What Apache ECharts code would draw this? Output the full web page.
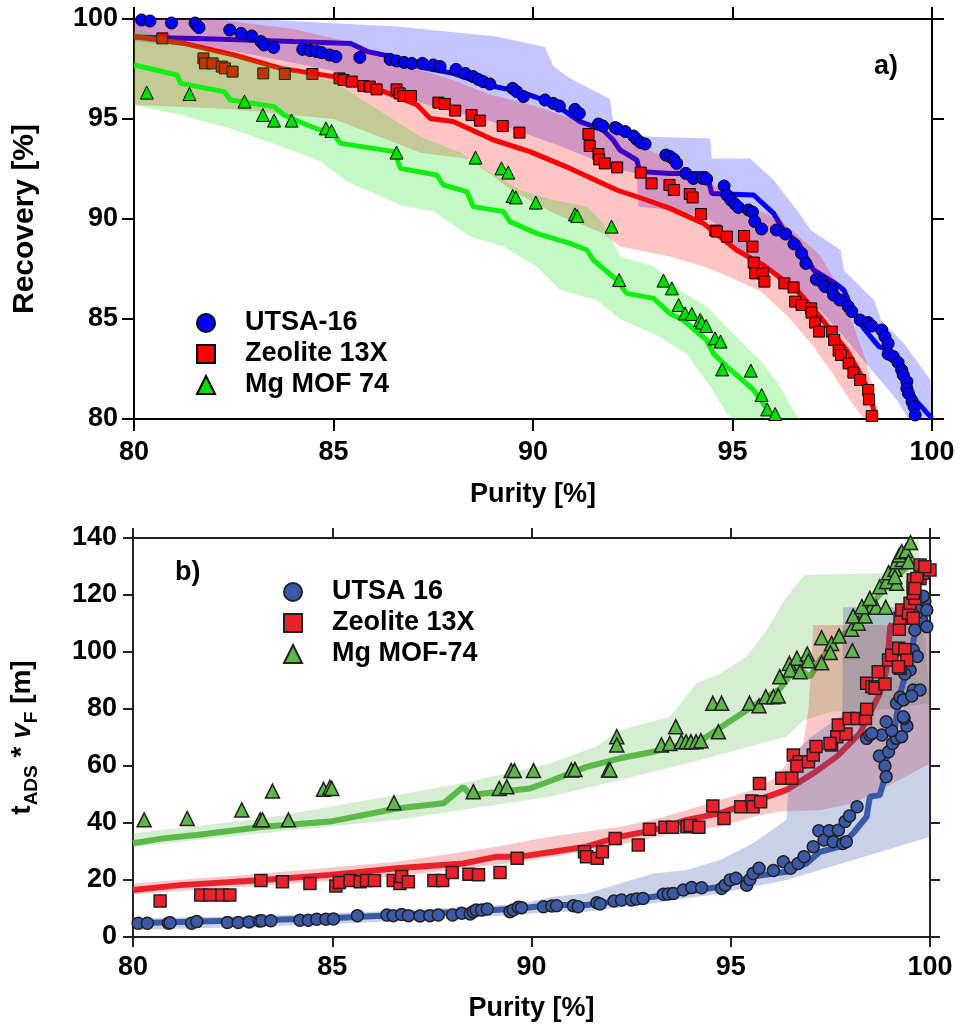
<!DOCTYPE html>
<html><head><meta charset="utf-8">
<script src="https://cdn.jsdelivr.net/npm/echarts@6/dist/echarts.min.js"></script>
<style>html,body{margin:0;padding:0;background:#fff}#c{width:961px;height:1036px}</style>
</head><body><div id="c"></div>
<script>
// ---------- Panel a: Recovery vs Purity ----------
var xTicksA = [80, 85, 90, 95, 100];
var yTicksA = [80, 85, 90, 95, 100];
var utsaA = [[80.19,99.95],[80.4,99.9],[80.94,99.8],[81.53,99.8],[81.57,99.7],[81.63,99.57],[82.4,99.45],[82.68,99.28],[82.95,99.15],[83.18,98.87],[83.26,98.7],[83.5,98.58],[84.23,98.48],[84.41,98.42],[84.58,98.37],[84.7,98.32],[84.9,98.2],[85.06,98.12],[85.66,98.08],[86.42,97.98],[86.58,97.9],[86.77,97.83],[86.96,97.78],[87.23,97.78],[87.5,97.7],[87.67,97.62],[88.07,97.48],[88.3,97.28],[88.5,97.12],[88.63,96.98],[88.75,96.87],[88.92,96.75],[89.49,96.53],[89.59,96.37],[89.76,96.12],[90.3,95.95],[90.51,95.78],[90.66,95.65],[91.05,95.48],[91.16,95.28],[91.64,94.75],[91.75,94.65],[92.06,94.57],[92.12,94.5],[92.31,94.37],[92.52,94.15],[92.6,93.98],[92.7,93.82],[92.81,93.75],[93.33,93.2],[93.43,93.12],[93.53,92.98],[93.6,92.78],[93.83,92.28],[94.02,92.03],[94.25,92.03],[94.35,92.0],[94.79,91.65],[94.86,91.2],[94.96,90.95],[95.06,90.75],[95.15,90.58],[95.4,90.45],[95.5,90.35],[95.56,89.87],[95.73,89.5],[96.1,89.45],[96.33,89.25],[96.54,88.75],[96.73,88.28],[96.84,87.78],[97.1,86.98],[97.23,86.87],[97.32,86.62],[97.49,86.48],[97.53,86.2],[97.69,85.95],[97.9,85.62],[97.99,85.37],[98.2,84.95],[98.4,84.82],[98.49,84.65],[98.74,84.45],[98.82,84.12],[98.9,83.78],[98.9,83.25],[99.03,83.12],[99.15,82.82],[99.24,82.45],[99.28,82.2],[99.37,81.87],[99.37,81.53],[99.41,81.28],[99.5,80.87],[99.55,80.62],[99.58,80.2]];
var zeoA = [[80.71,99.03],[81.74,98.03],[81.78,97.78],[81.97,97.78],[82.2,97.62],[82.28,97.53],[82.47,97.37],[83.24,97.28],[83.78,97.25],[84.47,97.25],[85.15,97.03],[85.25,96.95],[85.46,96.87],[85.75,96.65],[85.91,96.62],[86.08,96.48],[86.58,96.48],[86.66,96.28],[86.75,96.15],[86.94,96.15],[87.63,95.82],[87.79,95.75],[88.05,95.42],[88.46,95.2],[88.67,94.92],[89.24,94.65],[89.66,94.32],[91.39,94.25],[91.42,93.65],[91.64,93.25],[91.66,92.98],[91.8,92.78],[92.11,92.58],[92.7,92.32],[92.97,91.78],[93.42,91.7],[93.53,91.45],[93.93,91.25],[94.0,91.08],[94.21,90.25],[94.57,89.42],[94.61,89.37],[94.86,89.12],[95.29,89.15],[95.5,88.62],[95.53,87.82],[95.57,87.28],[95.76,87.28],[95.8,86.87],[96.3,86.78],[96.53,86.58],[96.57,85.87],[96.73,85.7],[96.97,85.53],[96.98,85.32],[97.07,84.82],[97.17,84.37],[97.49,84.37],[97.55,83.95],[97.66,83.42],[97.72,83.2],[97.91,82.78],[98.03,82.32],[98.2,81.95],[98.4,81.45],[98.42,80.98],[98.49,80.15]];
var mofA = [[80.32,96.32],[81.39,96.25],[82.77,95.87],[83.23,95.2],[83.51,94.92],[83.95,94.92],[84.81,94.53],[84.95,94.4],[86.58,93.32],[88.56,93.07],[89.21,92.53],[89.38,92.32],[89.49,91.15],[89.57,91.08],[90.07,90.82],[91.05,90.23],[91.11,90.15],[91.97,89.62],[92.16,86.95],[93.27,86.92],[93.48,86.53],[93.65,85.7],[93.81,85.28],[93.98,85.25],[94.19,84.95],[94.23,84.82],[94.34,84.65],[94.56,84.03],[94.7,83.87],[94.74,82.48],[95.46,82.42],[95.73,81.2],[95.87,80.48],[96.07,80.25]];
var utsaLineA = [[80,99.1],[82,99.0],[84,98.87],[85.43,98.78],[85.85,98.37],[86.5,98.1],[87.17,97.6],[88.0,97.28],[88.84,96.7],[89.67,96.37],[90.51,95.78],[91.18,94.87],[91.76,94.45],[92.01,93.95],[92.18,93.45],[92.6,92.95],[92.68,92.37],[93.43,92.28],[94.35,92.28],[94.48,91.28],[95.53,91.2],[96.03,90.28],[96.28,89.45],[96.66,88.78],[97.03,87.45],[97.58,86.78],[97.79,86.45],[98.04,85.28],[98.29,84.53],[98.67,83.62],[98.96,83.45],[99.21,82.62],[99.37,81.7],[99.62,80.87],[100,80.03]];
var zeoLineA = [[80,99.12],[81.25,98.78],[82.51,98.2],[83.68,97.53],[85.01,97.12],[86.27,96.37],[87.1,95.7],[87.42,95.03],[88.0,94.87],[89.01,93.95],[89.92,93.37],[90.93,92.53],[92.1,91.45],[92.85,90.95],[93.43,90.53],[94.27,89.78],[95.1,88.45],[95.77,87.7],[96.61,86.45],[97.19,85.12],[97.86,83.45],[98.2,82.28],[98.45,81.28],[98.57,80.12],[98.6,79.5]];
var mofLineA = [[80,97.7],[80.33,97.55],[81.08,97.2],[81.17,96.78],[82.26,96.37],[82.42,95.95],[83.51,95.62],[83.76,95.2],[84.34,94.7],[85.01,94.2],[85.18,93.78],[86.52,93.37],[86.68,92.53],[87.59,92.2],[87.75,91.7],[88.34,91.37],[88.5,90.62],[89.26,90.37],[89.42,89.87],[90.09,89.28],[90.93,88.78],[91.35,88.45],[91.51,87.95],[92.1,86.95],[92.35,86.28],[93.02,86.03],[93.43,85.28],[93.76,84.95],[94.35,83.95],[94.52,83.28],[94.86,82.62],[95.53,81.45],[95.94,80.28],[96.07,80.05]];
var utsaUpA = [[80,100.5],[83.0,100.2],[84.9,99.8],[86.58,99.62],[89.09,99.12],[90.3,98.6],[90.51,97.62],[90.93,97.03],[91.93,96.0],[92.05,94.2],[93.18,94.1],[94.44,94.03],[94.48,93.03],[95.44,93.03],[96.03,91.95],[96.61,90.45],[96.96,89.45],[97.71,88.45],[97.79,87.45],[98.29,86.45],[98.55,85.95],[98.72,84.95],[99.3,83.78],[99.96,81.95],[100,80]];
var utsaLoA = [[80,98.9],[82.5,98.4],[85,97.4],[87.2,95.8],[88.84,94.95],[90.51,93.78],[92.18,92.45],[92.6,92.28],[92.64,90.62],[93.43,90.45],[94.27,90.12],[94.69,89.62],[94.86,88.95],[95.53,87.95],[96.36,86.62],[97.19,85.45],[97.86,83.95],[98.27,82.95],[98.7,81.95],[99.12,80.95],[99.41,80.0]];
var zeoUpA = [[80,100.5],[82,100.2],[84,99.5],[85.5,98.8],[87.17,97.45],[88,96.95],[88.84,96.28],[90.09,95.62],[91.35,94.78],[92.18,94.12],[93.4,93.0],[94.4,91.9],[95.0,91.0],[96.2,89.95],[97.19,88.2],[97.7,86.5],[98.37,82.78],[98.7,80.0]];
var zeoLoA = [[80,95.7],[82.4,95.5],[85,95.0],[87.2,93.3],[88.42,93.0],[89.5,91.4],[90.51,90.3],[91.76,89.28],[92.18,88.62],[93.43,88.12],[94.27,87.62],[94.69,87.3],[95.7,86.4],[96.4,85.1],[97.0,83.7],[97.5,82.3],[97.95,80.9],[98.3,79.8]];
var mofUpA = [[80,99.5],[82.5,98.2],[85,96.87],[87.17,94.12],[88.2,93.3],[88.84,92.45],[89.67,91.45],[90.51,90.95],[91.35,90.62],[91.76,89.78],[92.18,88.12],[93.02,87.62],[93.68,86.45],[94.35,85.62],[95.01,84.28],[95.69,82.95],[96.19,81.62],[96.61,80.12],[96.7,79.8]];
var mofLoA = [[80,95.7],[81.17,95.2],[82.42,94.53],[83.59,93.7],[84.68,92.87],[85.34,91.87],[86.68,90.7],[87.52,90.37],[88.42,89.12],[89.26,88.62],[90.09,87.62],[90.68,86.45],[91.6,85.95],[92.18,85.0],[93.02,84.28],[93.85,83.28],[94.44,81.62],[94.86,80.28],[95.0,79.8]];

// ---------- Panel b: tADS * vF vs Purity ----------
var xTicksB = [80, 85, 90, 95, 100];
var yTicksB = [0, 20, 40, 60, 80, 100, 120, 140];
var utsaB = [[80.13,4.8],[80.36,4.8],[80.89,4.8],[80.93,5.0],[81.47,4.8],[81.6,5.4],[82.37,5.1],[82.64,5.1],[82.91,5.3],[83.17,5.6],[83.23,5.7],[83.46,5.7],[84.19,5.9],[84.4,5.9],[84.61,6.2],[84.84,6.2],[85.03,6.3],[85.63,7.5],[86.37,7.7],[86.53,7.5],[86.74,7.9],[86.91,7.5],[87.2,7.4],[87.45,7.5],[87.66,7.7],[88.02,7.7],[88.25,8.3],[88.46,8.1],[88.54,8.9],[88.61,9.5],[88.75,9.5],[88.89,9.8],[89.46,8.9],[89.54,9.5],[89.67,10.4],[89.75,10.3],[90.3,10.6],[90.51,10.9],[90.63,11.0],[91.05,11.0],[91.17,10.6],[91.64,12.0],[91.72,11.6],[92.07,12.6],[92.26,13.0],[92.51,13.0],[92.64,13.3],[92.8,13.5],[93.31,15.0],[93.43,15.1],[93.56,15.3],[93.81,16.5],[94.02,17.4],[94.27,17.3],[94.77,17.0],[94.86,18.2],[94.98,20.0],[95.13,20.6],[95.4,18.2],[95.48,20.2],[95.56,22.3],[95.71,24.1],[96.07,23.3],[96.32,26.4],[96.5,24.1],[96.69,25.8],[96.84,28.2],[97.07,31.7],[97.21,37.3],[97.34,34.0],[97.47,37.3],[97.57,33.4],[97.7,37.5],[97.87,40.5],[97.98,42.5],[97.81,32.8],[97.9,33.4],[98.17,45.7],[98.41,69.7],[98.49,70.9],[98.79,70.9],[98.73,63.5],[98.87,60.0],[98.9,56.2],[98.96,65.0],[99.06,67.9],[99.16,69.7],[99.29,70.3],[98.54,71.5],[99.04,72.4],[99.42,74.0],[99.35,76.7],[98.9,75.5],[99.33,77.3],[99.16,82.0],[99.25,84.1],[99.33,83.2],[99.58,86.7],[99.75,86.7],[99.54,84.6],[99.42,93.7],[99.5,93.7],[99.37,92.3],[99.46,98.6],[99.58,100.7],[99.68,98.4],[99.62,107.7],[99.79,111.2],[99.92,108.9],[99.67,113.6],[99.79,115.9],[99.87,118.0],[99.92,114.7],[99.75,118.8],[99.83,119.6]];
var zeoB = [[80.68,12.6],[81.7,14.7],[81.93,14.7],[82.23,14.7],[82.43,14.7],[83.21,19.8],[83.75,19.4],[84.44,18.8],[85.09,17.9],[85.18,19.1],[85.45,19.8],[85.7,19.4],[85.86,19.8],[86.06,19.8],[86.53,19.8],[86.7,18.8],[86.74,21.2],[86.91,19.4],[87.55,19.8],[87.77,19.8],[88.01,22.6],[88.43,22.0],[88.67,21.8],[89.21,22.6],[89.64,27.6],[91.33,29.9],[91.38,28.2],[91.65,27.6],[91.78,29.9],[92.1,34.6],[92.68,32.3],[92.96,37.8],[93.35,38.5],[93.54,38.5],[93.9,38.7],[93.98,39.1],[94.2,38.5],[94.55,46.0],[94.83,41.6],[95.25,45.7],[95.53,47.7],[95.56,45.7],[95.75,47.5],[95.72,53.9],[96.28,55.7],[96.53,55.7],[96.57,63.9],[96.72,61.5],[96.66,60.0],[96.95,61.5],[97.07,63.9],[97.14,66.8],[97.53,67.4],[97.66,70.3],[97.89,71.2],[97.49,67.9],[97.7,74.4],[97.97,76.7],[98.17,76.7],[98.38,76.7],[98.41,79.9],[98.41,89.0],[98.54,87.8],[98.62,87.3],[98.87,88.8],[98.7,93.1],[98.96,97.2],[99.04,98.9],[99.21,101.3],[99.37,100.9],[99.25,94.3],[99.42,97.2],[99.21,94.8],[99.23,108.0],[99.25,111.8],[99.29,114.7],[99.46,113.6],[99.58,111.8],[99.5,117.1],[99.62,118.8],[99.58,120.6],[99.58,122.9],[99.58,125.3],[99.75,125.8],[99.83,127.6],[100.0,128.8],[99.75,130.5],[99.87,129.9],[99.67,125.8],[99.62,122.3]];
var mofB = [[80.28,41.1],[81.36,41.6],[82.73,44.6],[83.19,41.1],[83.25,41.1],[83.5,51.2],[83.9,41.1],[84.78,51.8],[84.94,52.5],[84.99,52.1],[86.55,47.1],[88.54,51.0],[89.19,52.1],[89.38,52.7],[89.49,58.4],[89.57,58.4],[90.05,58.4],[91.0,58.6],[91.09,58.8],[91.93,58.6],[91.97,58.6],[92.14,70.3],[92.14,67.4],[93.26,67.4],[93.47,67.9],[93.62,73.8],[93.76,68.5],[93.88,68.5],[94.0,68.5],[94.13,68.5],[94.25,68.9],[94.69,72.0],[94.55,82.0],[94.77,82.0],[95.47,82.0],[95.71,81.1],[95.88,84.3],[96.07,84.3],[96.19,84.6],[96.23,91.3],[96.47,96.0],[96.66,97.8],[96.92,99.3],[96.49,93.7],[96.74,93.1],[96.95,96.9],[97.28,96.2],[97.28,105.0],[97.53,103.0],[97.72,105.6],[97.5,99.8],[98.05,100.5],[98.03,108.0],[98.2,110.1],[98.07,112.6],[98.37,112.6],[98.54,116.1],[98.29,115.9],[98.65,115.7],[98.89,115.7],[98.49,118.8],[98.74,122.9],[98.91,124.7],[98.96,127.8],[99.12,129.0],[99.16,131.7],[99.31,132.5],[99.23,134.0],[99.29,135.2],[99.4,135.5],[99.46,131.7],[99.16,124.1],[99.12,126.4],[99.51,138.4]];
var utsaLineB = [[80,4.8],[81.6,5.4],[83.27,6.0],[84.94,6.6],[86.62,7.7],[88.29,8.9],[89.71,10.0],[90.46,11.2],[91.38,11.2],[93.06,14.1],[94.73,17.6],[95.56,21.2],[96.4,22.9],[96.9,25.8],[97.24,29.9],[97.74,31.7],[98.07,36.4],[98.41,42.2],[98.49,49.2],[98.74,49.8],[98.87,56.2],[98.91,62.1],[99.08,70.0],[99.25,85.5],[99.5,97.2],[99.62,106.5],[99.67,108.9]];
var zeoLineB = [[80,16.5],[81.18,18.2],[83.27,20.0],[84.94,21.8],[86.62,24.1],[88.29,25.8],[89.13,28.2],[89.71,28.2],[90.54,29.9],[91.38,31.7],[92.22,35.2],[93.06,37.5],[93.9,41.1],[94.73,43.4],[95.56,47.5],[96.4,51.6],[97.07,57.4],[97.66,63.3],[98.24,71.5],[98.74,85.5],[98.91,93.7],[99.0,108.9],[99.05,110.0]];
var mofLineB = [[80,32.9],[80.76,34.6],[81.6,35.8],[83.27,38.7],[84.94,40.5],[86.62,45.1],[87.79,46.9],[88.29,52.7],[88.46,49.8],[89.96,52.1],[90.54,55.1],[91.38,59.7],[92.22,62.7],[93.06,65.0],[94.31,69.5],[95.15,77.3],[96.23,87.0],[96.4,90.2],[96.66,94.8],[96.99,91.3],[97.24,97.2],[97.74,105.4],[98.0,107.7],[98.41,114.7],[98.83,121.8],[99.25,127.6],[99.6,132.0]];
var utsaUpB = [[80,6.5],[83.27,7.5],[86.62,9.2],[88.3,10.5],[89.71,11.6],[90.54,14.1],[91.38,15.3],[93.06,22.3],[93.9,23.5],[94.73,27.0],[95.56,32.9],[96.4,41.1],[96.49,63.0],[97.0,70.0],[97.8,78.0],[97.82,115.7],[100,115.7]];
var utsaLoB = [[80,2.5],[83.27,3.7],[86.62,5.5],[89.71,7.8],[90.46,8.9],[91.38,8.9],[93.06,11.8],[94.73,15.3],[96.4,20.0],[98.07,27.0],[98.91,30.5],[100,35.2]];
var zeoUpB = [[80,18.8],[83.27,22.3],[86.62,26.4],[89.13,31.7],[90.46,35.2],[92.22,38.7],[93.06,41.1],[93.9,44.6],[94.73,48.1],[95.56,51.6],[96.15,56.2],[96.4,60.9],[96.82,68.0],[96.95,80.0],[97.03,97.0],[97.07,109.5],[100,109.5]];
var zeoLoB = [[80,15.0],[83.27,18.2],[86.62,21.2],[89.71,26.4],[90.54,28.2],[92.22,32.3],[93.9,37.5],[94.73,38.7],[95.56,42.2],[96.23,44.0],[97.24,44.5],[98.07,46.9],[98.91,52.7],[100,60.9]];
var mofUpB = [[80,36.4],[83.27,41.6],[86.62,49.8],[88.3,54.0],[90.46,60.9],[91.63,66.8],[92.22,72.6],[93.48,77.3],[94.14,89.0],[94.73,92.5],[95.4,98.4],[95.9,107.7],[96.4,119.4],[96.86,127.0],[98.83,127.6],[99.3,134.0],[99.7,141.0]];
var mofLoB = [[80,31.7],[83.27,36.4],[86.62,41.1],[90.46,49.2],[92.22,55.1],[93.9,60.9],[95.15,65.6],[96.4,70.3],[96.82,76.0],[97.5,79.0],[99.0,80.0],[100,82.0]];

var FONT = 'Liberation Sans';
var chart = echarts.init(document.getElementById('c'), null, {renderer: 'canvas'});

function band(up, lo, color, xi, yi, z) {
  return {
    type: 'custom', xAxisIndex: xi, yAxisIndex: yi, z: z, silent: true,
    data: [up[0]],
    renderItem: function (params, api) {
      var cs = params.coordSys;
      var pts = up.map(function (p) { return api.coord(p); })
        .concat(lo.slice().reverse().map(function (p) { return api.coord(p); }));
      pts = pts.map(function (p) {
        return [Math.min(Math.max(p[0], cs.x), cs.x + cs.width), Math.min(Math.max(p[1], cs.y), cs.y + cs.height)];
      });
      return { type: 'polygon', shape: { points: pts }, style: { fill: color } };
    }
  };
}
function line(data, color, xi, yi, z, w) {
  return { type: 'line', xAxisIndex: xi, yAxisIndex: yi, z: z, data: data, showSymbol: false, silent: true,
    lineStyle: { color: color, width: w }, itemStyle: { color: color } };
}
function scat(name, data, sym, size, color, border, bw, xi, yi, z) {
  return { type: 'scatter', name: name, xAxisIndex: xi, yAxisIndex: yi, z: z, data: data, symbol: sym, symbolSize: size,
    silent: true, itemStyle: { color: color, borderColor: border, borderWidth: bw, opacity: 1 } };
}
function axisCommon(len, show, color) {
  return {
    axisLine: { show: true, onZero: false, lineStyle: { color: color, width: 2 } },
    axisTick: { show: true, inside: false, length: len, lineStyle: { color: color, width: 2 } },
    splitLine: { show: false },
    axisLabel: { show: show, fontFamily: FONT, fontWeight: 'bold', fontSize: 27, color: '#000' }
  };
}
function mk(base, extra) { for (var k in extra) base[k] = extra[k]; return base; }

var nameStyle = { fontFamily: FONT, fontWeight: 'bold', fontSize: 27, color: '#000' };
var yNameStyle = { fontFamily: FONT, fontWeight: 'bold', fontSize: 30, color: '#000' };

var xAxes = [
  mk(axisCommon(12, true, '#000'), { gridIndex: 0, type: 'value', position: 'bottom', min: xTicksA[0], max: xTicksA[xTicksA.length-1], interval: 5,
    name: 'Purity [%]', nameLocation: 'middle', nameGap: 62, nameTextStyle: nameStyle }),
  mk(axisCommon(12, false, '#000'), { gridIndex: 0, type: 'value', position: 'top', min: 80, max: 100, interval: 5 }),
  mk(axisCommon(10, true, '#222'), { gridIndex: 1, type: 'value', position: 'bottom', min: xTicksB[0], max: xTicksB[xTicksB.length-1], interval: 5,
    name: 'Purity [%]', nameLocation: 'middle', nameGap: 58, nameTextStyle: nameStyle }),
  mk(axisCommon(10, false, '#222'), { gridIndex: 1, type: 'value', position: 'top', min: 80, max: 100, interval: 5 })
];
xAxes[0].axisLabel.margin = 20;
xAxes[2].axisLabel.margin = 17;
var yAxes = [
  mk(axisCommon(12, true, '#000'), { gridIndex: 0, type: 'value', position: 'left', min: yTicksA[0], max: yTicksA[yTicksA.length-1], interval: 5,
    name: 'Recovery [%]', nameLocation: 'middle', nameRotate: 90, nameGap: 94, nameTextStyle: yNameStyle }),
  mk(axisCommon(12, false, '#000'), { gridIndex: 0, type: 'value', position: 'right', min: 80, max: 100, interval: 5 }),
  mk(axisCommon(10, true, '#222'), { gridIndex: 1, type: 'value', position: 'left', min: yTicksB[0], max: yTicksB[yTicksB.length-1], interval: 20,
    name: '{t|t}{s|ADS}{t| * }{v|v}{s|F}{t| [m]}', nameLocation: 'middle', nameRotate: 90, nameGap: 92,
    nameTextStyle: { fontFamily: FONT, fontWeight: 'bold', color: '#000', rich: {
      t: { fontFamily: FONT, fontWeight: 'bold', fontSize: 28, color: '#000', verticalAlign: 'top', padding: [0,0,5,0] },
      v: { fontFamily: FONT, fontWeight: 'bold', fontStyle: 'italic', fontSize: 28, color: '#000', verticalAlign: 'top', padding: [0,0,5,0] },
      s: { fontFamily: FONT, fontWeight: 'bold', fontSize: 19, color: '#000', verticalAlign: 'bottom' } } } }),
  mk(axisCommon(10, false, '#222'), { gridIndex: 1, type: 'value', position: 'right', min: 0, max: 140, interval: 20 })
];
yAxes[0].axisLabel.margin = 16;
yAxes[2].axisLabel.margin = 16;

var A_BLUE = '#0000ff', A_RED = '#ff0000', A_GREEN = '#00e000';
var B_BLUE = '#3a5aa8', B_RED = '#e8212a', B_GREEN = '#5cb848', B_EDGE = '#231f20';

var series = [
  band(utsaUpA, utsaLoA, 'rgba(0,0,255,0.23)', 0, 0, 1),
  line(utsaLineA, A_BLUE, 0, 0, 2, 5),
  band(zeoUpA, zeoLoA, 'rgba(255,0,0,0.23)', 0, 0, 3),
  line(zeoLineA, A_RED, 0, 0, 4, 5),
  scat('Zeolite 13X', zeoA, 'rect', 11, A_RED, '#000', 1, 0, 0, 5),
  band(mofUpA, mofLoA, 'rgba(0,225,0,0.23)', 0, 0, 6),
  line(mofLineA, '#11ee11', 0, 0, 7, 5),
  scat('Mg MOF 74', mofA, 'triangle', 13, A_GREEN, '#000', 1, 0, 0, 8),
  scat('UTSA-16', utsaA, 'circle', 12, A_BLUE, '#000', 1, 0, 0, 9),

  band(mofUpB, mofLoB, 'rgba(92,184,72,0.26)', 2, 2, 1),
  line(mofLineB, B_GREEN, 2, 2, 2, 6),
  band(zeoUpB, zeoLoB, 'rgba(236,32,39,0.25)', 2, 2, 3),
  line(zeoLineB, B_RED, 2, 2, 4, 6),
  band(utsaUpB, utsaLoB, 'rgba(59,90,168,0.28)', 2, 2, 5),
  line(utsaLineB, B_BLUE, 2, 2, 6, 6),
  scat('Mg MOF-74', mofB, 'triangle', 14, B_GREEN, B_EDGE, 1.5, 2, 2, 7),
  scat('UTSA 16', utsaB, 'circle', 12, B_BLUE, B_EDGE, 1.5, 2, 2, 8),
  scat('Zeolite 13X ', zeoB, 'rect', 12, B_RED, B_EDGE, 1.5, 2, 2, 9)
];

var legendText = { fontFamily: FONT, fontWeight: 'bold', fontSize: 27, color: '#000', padding: [0,0,0,25], lineHeight: 28 };
chart.setOption({
  animation: false,
  backgroundColor: '#fff',
  grid: [
    { left: 134, right: 29, top: 19, bottom: 617, containLabel: false },
    { left: 133, right: 31, top: 538, bottom: 99, containLabel: false }
  ],
  xAxis: xAxes, yAxis: yAxes,
  legend: [
    { orient: 'vertical', left: 196, top: 309, padding: 0, itemGap: 3, itemWidth: 18, itemHeight: 18, selectedMode: false,
      data: [{ name: 'UTSA-16', icon: 'circle' }, { name: 'Zeolite 13X', icon: 'rect' }, { name: 'Mg MOF 74', icon: 'triangle' }],
      textStyle: legendText },
    { orient: 'vertical', left: 283, top: 578, padding: 0, itemGap: 3, itemWidth: 18, itemHeight: 18, selectedMode: false,
      data: [{ name: 'UTSA 16', icon: 'circle' }, { name: 'Zeolite 13X ', icon: 'rect' }, { name: 'Mg MOF-74', icon: 'triangle' }],
      textStyle: legendText }
  ],
  graphic: [
    { type: 'text', left: 874, top: 53, style: { text: 'a)', fontFamily: FONT, fontWeight: 'bold', fontSize: 27, fill: '#000' } },
    { type: 'text', left: 175, top: 559, style: { text: 'b)', fontFamily: FONT, fontWeight: 'bold', fontSize: 27, fill: '#000' } }
  ],
  series: series
});
</script></body></html>
